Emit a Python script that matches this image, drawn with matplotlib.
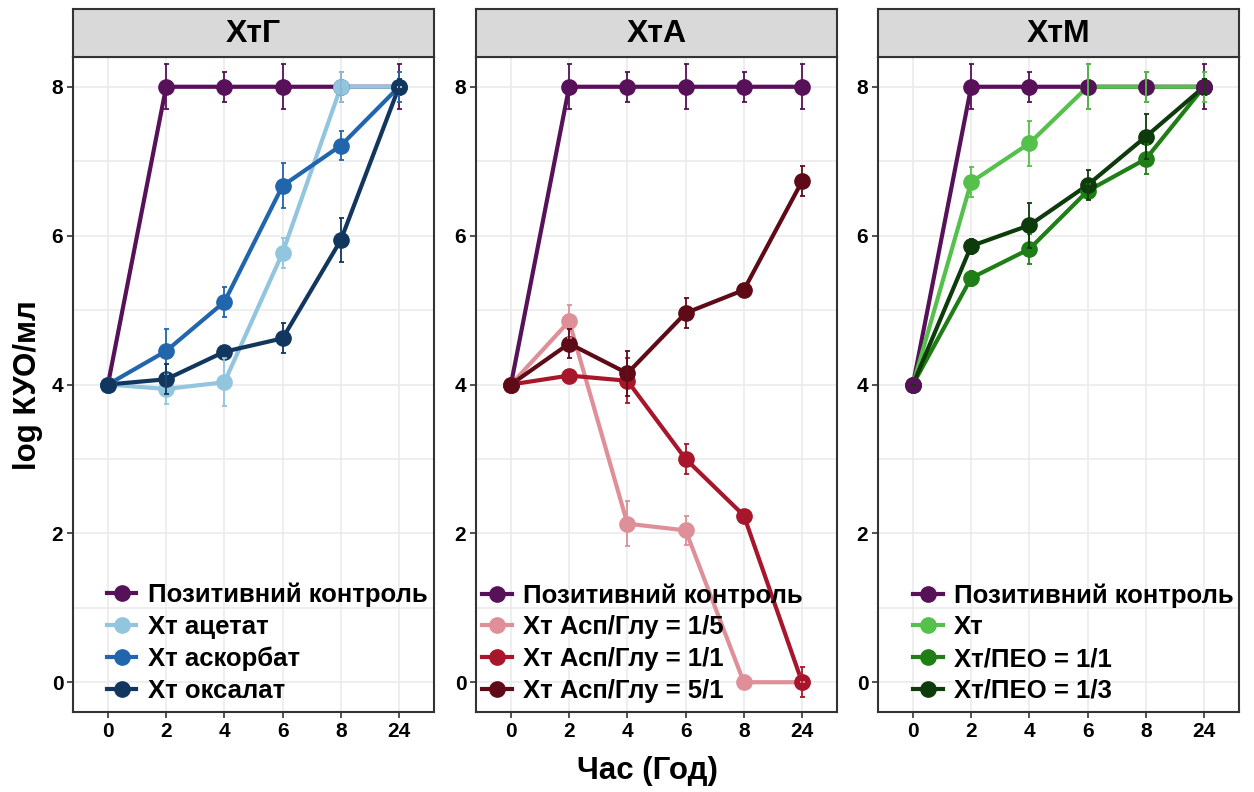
import numpy as np
import matplotlib
matplotlib.use("Agg")
import matplotlib.pyplot as plt

plt.rcParams['font.family'] = ['Liberation Sans', 'DejaVu Sans']
plt.rcParams['font.weight'] = 'bold'

hours = ['0', '2', '4', '6', '8', '24']

# позитивний контроль (однаковий на всіх панелях)
control = [4, 8, 8, 8, 8, 8]
control_sd = [0, 0.3, 0.2, 0.3, 0.2, 0.3]

# ХтГ
acetate = [4, 3.94, 4.03, 5.77, 8, 8]
acetate_sd = [0, 0.2, 0.32, 0.2, 0.2, 0]
ascorbate = [4, 4.45, 5.11, 6.67, 7.21, 8]
ascorbate_sd = [0, 0.3, 0.2, 0.3, 0.2, 0.2]
oxalate = [4, 4.07, 4.44, 4.62, 5.94, 8]
oxalate_sd = [0, 0.2, 0.05, 0.2, 0.3, 0.1]

# ХтА
asp_1_5 = [4, 4.85, 2.13, 2.04, 0, 0]
asp_1_5_sd = [0, 0.22, 0.3, 0.2, 0, 0]
asp_1_1 = [4, 4.12, 4.05, 3.0, 2.24, 0]
asp_1_1_sd = [0, 0.07, 0.3, 0.2, 0.05, 0.2]
asp_5_1 = [4, 4.55, 4.15, 4.96, 5.27, 6.73]
asp_5_1_sd = [0, 0.2, 0.3, 0.2, 0.05, 0.2]

# ХтМ
cht = [4, 6.72, 7.24, 8, 8, 8]
cht_sd = [0, 0.2, 0.3, 0.3, 0.2, 0.2]
peo_1_1 = [4, 5.43, 5.82, 6.6, 7.03, 8]
peo_1_1_sd = [0, 0.1, 0.2, 0.1, 0.2, 0.1]
peo_1_3 = [4, 5.86, 6.14, 6.68, 7.33, 8]
peo_1_3_sd = [0, 0.1, 0.3, 0.2, 0.3, 0.1]

PURPLE = '#561159'
panels = [
    ('ХтГ', [
        ('Позитивний контроль', control, control_sd, PURPLE),
        ('Хт ацетат', acetate, acetate_sd, '#92c5de'),
        ('Хт аскорбат', ascorbate, ascorbate_sd, '#2166ac'),
        ('Хт оксалат', oxalate, oxalate_sd, '#12375e'),
    ], 0.094),
    ('ХтА', [
        ('Позитивний контроль', control, control_sd, PURPLE),
        ('Хт Асп/Глу = 1/5', asp_1_5, asp_1_5_sd, '#de8f97'),
        ('Хт Асп/Глу = 1/1', asp_1_1, asp_1_1_sd, '#a7162b'),
        ('Хт Асп/Глу = 5/1', asp_5_1, asp_5_1_sd, '#5e0b17'),
    ], 0.017),
    ('ХтМ', [
        ('Позитивний контроль', control, control_sd, PURPLE),
        ('Хт', cht, cht_sd, '#55c04b'),
        ('Хт/ПЕО = 1/1', peo_1_1, peo_1_1_sd, '#1f7f16'),
        ('Хт/ПЕО = 1/3', peo_1_3, peo_1_3_sd, '#0e3b0b'),
    ], 0.097),
]

W, H = 1254, 792
fig = plt.figure(figsize=(W / 100, H / 100), dpi=100)

lefts = [73, 476, 878]
pw = 361
top, bottom = 57, 712
strip_h = 48
x = np.arange(len(hours))

for (title, series, leg_x), left in zip(panels, lefts):
    ax = fig.add_axes([left / W, 1 - bottom / H, pw / W, (bottom - top) / H])
    handles = []
    for k, (name, vals, sd, col) in enumerate(series):
        ax.plot(x, vals, color=col, lw=3, zorder=2 + k * 0.01, solid_capstyle='butt')
    for k, (name, vals, sd, col) in enumerate(series):
        z = 3 + k * 0.01
        if title == 'ХтМ' and k == 0:
            z = 3.5
        ax.plot(x, vals, color=col, marker='o', ms=11, ls='none', zorder=z)
        ax.errorbar(x, vals, yerr=sd, fmt='none', ecolor=col, elinewidth=1.3,
                    capsize=1.8, capthick=1.3, zorder=4)
        handles.append(ax.plot([], [], color=col, lw=3, marker='o', ms=11)[0])

    ax.set_xlim(-0.6, 5.6)
    ax.set_ylim(-0.4, 8.4)
    ax.set_xticks(x)
    ax.set_xticklabels(hours)
    ax.set_yticks([0, 2, 4, 6, 8])
    ax.set_yticks([1, 3, 5, 7], minor=True)
    ax.tick_params(axis='both', which='major', labelsize=15, length=4,
                   width=1.2, color='#333333', pad=3, labelcolor='black')
    ax.tick_params(axis='y', which='minor', length=0)
    for lab in ax.get_xticklabels() + ax.get_yticklabels():
        lab.set_fontweight('bold')
    ax.grid(True, which='major', color='#ebebeb', lw=1.2, zorder=0)
    ax.grid(True, which='minor', axis='y', color='#ebebeb', lw=1.2, zorder=0)
    ax.set_axisbelow(True)
    for s in ax.spines.values():
        s.set_color('#333333')
        s.set_linewidth(1.5)

    ax.legend(handles, [s[0] for s in series], loc='lower left',
              bbox_to_anchor=(leg_x, 0.014), frameon=False,
              prop={'size': 18.5, 'weight': 'bold'},
              handlelength=1.15, handletextpad=0.45, labelspacing=0.3,
              borderaxespad=0, borderpad=0)

    sax = fig.add_axes([left / W, 1 - top / H, pw / W, strip_h / H])
    sax.set_facecolor('#d9d9d9')
    sax.set_xticks([])
    sax.set_yticks([])
    for s in sax.spines.values():
        s.set_color('#333333')
        s.set_linewidth(1.5)
    sax.text(0.5, 0.47, title, ha='center', va='center', fontsize=23,
             fontweight='bold', transform=sax.transAxes)

fig.text(28 / W, 1 - 385 / H, 'log КУО/мл', rotation=90, ha='center', va='center',
         fontsize=22.5, fontweight='bold')
fig.text(647 / W, 1 - 771 / H, 'Час (Год)', ha='center', va='center',
         fontsize=22.5, fontweight='bold')

fig.savefig('out.png', dpi=100)
